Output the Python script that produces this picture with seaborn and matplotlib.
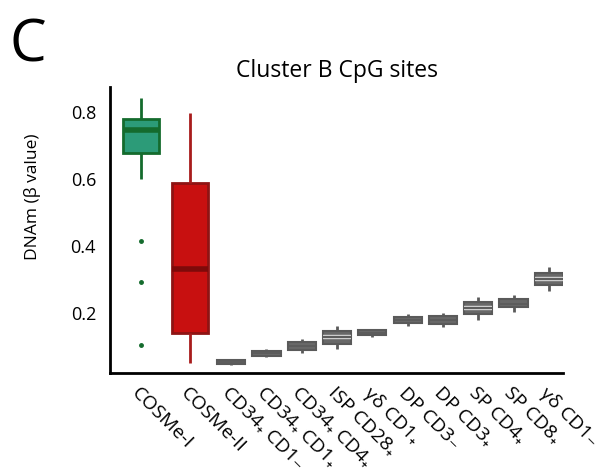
import numpy as np
import pandas as pd
import matplotlib
matplotlib.use("Agg")
import matplotlib.pyplot as plt
import matplotlib.patheffects as pe
import seaborn as sns

# ---------------- data ----------------
groups = ["COSMe-I", "COSMe-II",
          "CD34+ CD1-", "CD34+ CD1+", "CD34+ CD4+", "ISP CD28+", "gd CD1+",
          "DP CD3-", "DP CD3+", "SP CD4+", "SP CD8+", "gd CD1-"]
tick_labels = ["COSMe-I", "COSMe-II",
               "CD34₊ CD1₋", "CD34₊ CD1₊", "CD34₊ CD4₊",
               "ISP CD28₊", "γδ CD1₊", "DP CD3₋",
               "DP CD3₊", "SP CD4₊", "SP CD8₊", "γδ CD1₋"]
whisker_low  = [0.600, 0.054, 0.048, 0.070, 0.081, 0.093, 0.130, 0.164, 0.160, 0.182, 0.205, 0.268]
q1           = [0.676, 0.141, 0.050, 0.074, 0.091, 0.108, 0.135, 0.172, 0.170, 0.199, 0.218, 0.286]
median       = [0.746, 0.331, 0.056, 0.082, 0.103, 0.130, 0.143, 0.181, 0.180, 0.216, 0.228, 0.303]
q3           = [0.778, 0.588, 0.062, 0.089, 0.115, 0.147, 0.150, 0.190, 0.191, 0.233, 0.243, 0.321]
whisker_high = [0.841, 0.795, 0.064, 0.094, 0.123, 0.164, 0.155, 0.198, 0.200, 0.250, 0.255, 0.338]
outliers     = [[0.107, 0.293, 0.416], [], [], [], [], [], [], [], [], [], [], []]

# layout (axis positions and box widths of the groups)
positions = [0.0, 1.39, 2.55, 3.55, 4.55, 5.55, 6.55, 7.55, 8.55, 9.55, 10.55, 11.55]
widths = [1.0, 1.0] + [0.8] * 10


def observations(lo, a, m, b, hi, out):
    """Observation list whose linear-percentile quartiles equal the read summary."""
    low_out = sorted(v for v in out if v < lo)
    high_out = sorted(v for v in out if v > hi)
    k = max(len(low_out) + 1, len(high_out) + 1)
    low = low_out + [lo] * (k - len(low_out))
    high = [hi] * (k - len(high_out)) + high_out
    return low + [a] * k + [m] * k + [b] + high


rows = []
for i, g in enumerate(groups):
    for v in observations(whisker_low[i], q1[i], median[i], q3[i], whisker_high[i], outliers[i]):
        rows.append({"group": g, "pos": positions[i], "value": v})
df = pd.DataFrame(rows)

# ---------------- style ----------------
sns.set_theme(style="white")
plt.rcParams["font.family"] = ["Open Sans", "DejaVu Sans"]
for k in ["text.color", "axes.labelcolor", "xtick.color", "ytick.color"]:
    plt.rcParams[k] = "black"

fig = plt.figure(figsize=(6.03, 4.73), dpi=100)
ax = fig.add_axes([0.1824, 0.2114, 0.7513, 0.6046])

green_fill, green_edge = "#2c9b78", "#146b2d"
red_fill, red_edge, red_whisk, red_med = "#c81010", "#8e1414", "#a81c1c", "#7e0a0a"
gray_fill, gray_edge = "#686868", "#5a5a5a"

for i, g in enumerate(groups):
    sub = df[df.group == g]
    if i == 0:
        kw = dict(boxprops=dict(facecolor=green_fill, edgecolor=green_edge, linewidth=2),
                  whiskerprops=dict(color=green_edge, linewidth=2),
                  medianprops=dict(color=green_edge, linewidth=4),
                  flierprops=dict(marker="o", markersize=2.5, markerfacecolor=green_edge,
                                  markeredgecolor=green_edge))
        col = green_fill
    elif i == 1:
        kw = dict(boxprops=dict(facecolor=red_fill, edgecolor=red_edge, linewidth=2),
                  whiskerprops=dict(color=red_whisk, linewidth=2),
                  medianprops=dict(color=red_med, linewidth=4))
        col = red_fill
    else:
        striped = (q3[i] - q1[i]) >= 0.025
        mp = dict(color=gray_edge, linewidth=1.2)
        if striped:
            mp["path_effects"] = [pe.withStroke(linewidth=3.2, foreground="#cdcdcd"), pe.Normal()]
        kw = dict(boxprops=dict(facecolor=gray_fill, edgecolor=gray_edge, linewidth=1.5),
                  whiskerprops=dict(color=gray_edge, linewidth=2),
                  medianprops=mp)
        col = gray_fill
    sns.boxplot(data=sub, x="pos", y="value", native_scale=True, width=widths[i],
                color=col, showcaps=False, ax=ax, **kw)

ax.set_xlim(-0.88, 11.95)
ax.set_ylim(0.023, 0.873)
ax.set_yticks([0.2, 0.4, 0.6, 0.8])
ax.set_yticklabels(["0.2", "0.4", "0.6", "0.8"])
ax.set_xticks(positions)
ax.set_xticklabels(tick_labels, rotation=-45, ha="left", va="top", rotation_mode="anchor")
ax.tick_params(axis="y", length=0, pad=10, labelsize=13)
ax.tick_params(axis="x", length=0, pad=8, labelsize=14)
ax.set_xlabel("")
ax.set_ylabel("DNAm (β value)", fontsize=12.5)
ax.yaxis.set_label_coords(-0.152, 0.615)
ax.set_title("Cluster B CpG sites", fontsize=16.5, pad=7)

for s in ["top", "right"]:
    ax.spines[s].set_visible(False)
for s in ["left", "bottom"]:
    ax.spines[s].set_color("black")
    ax.spines[s].set_linewidth(2)

fig.text(0.015, 0.965, "C", fontsize=42, ha="left", va="top")

fig.savefig("out.png", dpi=100)
